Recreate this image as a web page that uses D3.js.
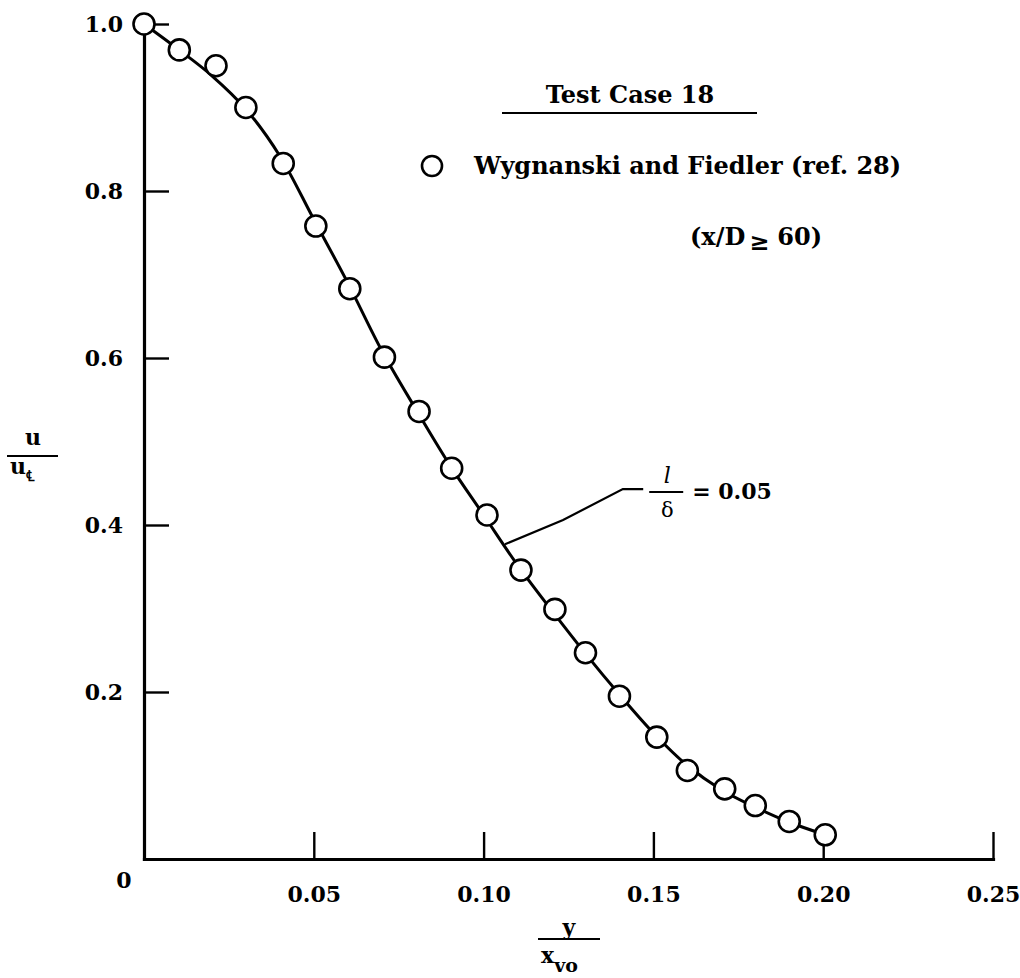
<!DOCTYPE html>
<html>
<head>
<meta charset="utf-8">
<script src="https://cdn.jsdelivr.net/npm/d3@7"></script>
<style>
  body { margin: 0; background: #fff; }
  svg text { font-family: "DejaVu Serif", serif; fill: #000; }
</style>
</head>
<body>
<svg id="chart" width="1020" height="978"></svg>
<script>
// measured points, Wygnanski and Fiedler (ref. 28)
var pointX = [0.0, 0.0104, 0.0212, 0.030, 0.041, 0.0506, 0.0606, 0.0708, 0.081, 0.0906,
              0.101, 0.111, 0.121, 0.130, 0.140, 0.151, 0.160, 0.171, 0.180, 0.190, 0.2006];
var pointY = [1.0, 0.969, 0.950, 0.900, 0.833, 0.758, 0.683, 0.601, 0.536, 0.468,
              0.412, 0.346, 0.299, 0.247, 0.195, 0.146, 0.106, 0.084, 0.064, 0.045, 0.029];

// computed curve, l/delta = 0.05
var curveX = [0.0, 0.01, 0.02, 0.03, 0.04, 0.05, 0.06, 0.07, 0.08, 0.09, 0.10,
              0.11, 0.12, 0.13, 0.14, 0.15, 0.16, 0.17, 0.18, 0.19, 0.2006];
var curveY = [1.0, 0.970, 0.938, 0.898, 0.842, 0.766, 0.690, 0.609, 0.539, 0.472, 0.412,
              0.352, 0.298, 0.246, 0.197, 0.151, 0.112, 0.083, 0.062, 0.044, 0.029];

var xTicks = [0.05, 0.10, 0.15, 0.20, 0.25];
var xTickLabels = ["0.05", "0.10", "0.15", "0.20", "0.25"];
var yTicks = [0.2, 0.4, 0.6, 0.8, 1.0];
var yTickLabels = ["0.2", "0.4", "0.6", "0.8", "1.0"];

// leader line of the curve label, in data units
var leaderX = [0.1063, 0.1234, 0.141, 0.147];
var leaderY = [0.377, 0.406, 0.443, 0.443];

(function () {
    var svg = d3.select('#chart');

    var x = d3.scaleLinear().domain([0, 0.25]).range([144, 993]);
    var y = d3.scaleLinear().domain([0, 1]).range([859, 24]);

    var xAxis = d3.axisBottom(x)
        .tickValues(xTicks)
        .tickFormat(function (d, i) { return xTickLabels[i]; })
        .tickSizeInner(-27)
        .tickSizeOuter(0)
        .tickPadding(27);

    var yAxis = d3.axisLeft(y)
        .tickValues(yTicks)
        .tickFormat(function (d, i) { return yTickLabels[i]; })
        .tickSizeInner(-25)
        .tickSizeOuter(0)
        .tickPadding(21);

    var styleAxis = function (g) {
        g.select('.domain')
            .attr('stroke', '#000')
            .attr('stroke-width', 3.2)
            .attr('stroke-linecap', 'square');
        g.selectAll('.tick line')
            .attr('stroke', '#000')
            .attr('stroke-width', 2.4);
        g.selectAll('.tick text')
            .attr('font-family', 'DejaVu Serif')
            .attr('font-weight', 'bold')
            .attr('font-size', 22)
            .attr('fill', '#000');
    };

    svg.append('g')
        .attr('transform', 'translate(0,' + y(0) + ')')
        .call(xAxis)
        .call(styleAxis);

    svg.append('g')
        .attr('transform', 'translate(' + x(0) + ',0)')
        .call(yAxis)
        .call(styleAxis);

    // origin label
    svg.append('text')
        .attr('x', x(0) - 20)
        .attr('y', y(0) + 29)
        .attr('text-anchor', 'middle')
        .attr('font-weight', 'bold')
        .attr('font-size', 22)
        .text('0');

    // curve
    var line = d3.line()
        .x(function (d) { return x(d[0]); })
        .y(function (d) { return y(d[1]); })
        .curve(d3.curveCatmullRom.alpha(0.5));

    svg.append('path')
        .datum(d3.zip(curveX, curveY))
        .attr('d', line)
        .attr('fill', 'none')
        .attr('stroke', '#000')
        .attr('stroke-width', 3);

    // data points
    svg.append('g')
        .selectAll('circle')
        .data(d3.zip(pointX, pointY))
        .enter()
        .append('circle')
        .attr('cx', function (d) { return x(d[0]); })
        .attr('cy', function (d) { return y(d[1]); })
        .attr('r', 10.5)
        .attr('fill', '#fff')
        .attr('stroke', '#000')
        .attr('stroke-width', 2.6);

    // curve label with leader
    var leader = d3.line()
        .x(function (d) { return x(d[0]); })
        .y(function (d) { return y(d[1]); });

    svg.append('path')
        .datum(d3.zip(leaderX, leaderY))
        .attr('d', leader)
        .attr('fill', 'none')
        .attr('stroke', '#000')
        .attr('stroke-width', 2.2);

    var lx = x(leaderX[3]) + 6;
    var ly = y(leaderY[3]) + 3;
    svg.append('line')
        .attr('x1', lx).attr('x2', lx + 34)
        .attr('y1', ly).attr('y2', ly)
        .attr('stroke', '#000').attr('stroke-width', 2);
    svg.append('text')
        .attr('x', lx + 18).attr('y', ly - 9)
        .attr('text-anchor', 'middle')
        .attr('font-style', 'italic')
        .attr('font-size', 22)
        .text('l');
    svg.append('text')
        .attr('x', lx + 18).attr('y', ly + 25)
        .attr('text-anchor', 'middle')
        .attr('font-size', 21)
        .text('δ');
    svg.append('text')
        .attr('x', lx + 43).attr('y', ly + 7)
        .attr('font-weight', 'bold')
        .attr('font-size', 22)
        .text('= 0.05');

    // legend block
    svg.append('text')
        .attr('x', 630).attr('y', 103)
        .attr('text-anchor', 'middle')
        .attr('font-weight', 'bold')
        .attr('font-size', 24)
        .text('Test Case 18');
    svg.append('line')
        .attr('x1', 502).attr('x2', 757)
        .attr('y1', 113).attr('y2', 113)
        .attr('stroke', '#000').attr('stroke-width', 2);

    svg.append('circle')
        .attr('cx', 432).attr('cy', 166)
        .attr('r', 10)
        .attr('fill', '#fff')
        .attr('stroke', '#000')
        .attr('stroke-width', 2.6);
    svg.append('text')
        .attr('x', 474).attr('y', 174)
        .attr('font-weight', 'bold')
        .attr('font-size', 24)
        .text('Wygnanski and Fiedler (ref. 28)');

    var cond = svg.append('text')
        .attr('x', 690).attr('y', 245)
        .attr('font-weight', 'bold')
        .attr('font-size', 24);
    cond.append('tspan').text('(x/D');
    cond.append('tspan').attr('dx', 4).attr('dy', 5).text('≥');
    cond.append('tspan').attr('dx', 8).attr('dy', -5).text('60)');

    // axis titles
    svg.append('text')
        .attr('x', 33).attr('y', 445)
        .attr('text-anchor', 'middle')
        .attr('font-weight', 'bold')
        .attr('font-size', 22)
        .text('u');
    svg.append('line')
        .attr('x1', 7).attr('x2', 58)
        .attr('y1', 456).attr('y2', 456)
        .attr('stroke', '#000').attr('stroke-width', 2);
    var uc = svg.append('text')
        .attr('x', 10).attr('y', 474)
        .attr('font-weight', 'bold')
        .attr('font-size', 22);
    uc.append('tspan').text('u');
    uc.append('tspan').attr('dy', 7).attr('font-size', 15).text('℄');

    svg.append('text')
        .attr('x', 569).attr('y', 935)
        .attr('text-anchor', 'middle')
        .attr('font-weight', 'bold')
        .attr('font-size', 22)
        .text('y');
    svg.append('line')
        .attr('x1', 538).attr('x2', 600)
        .attr('y1', 939).attr('y2', 939)
        .attr('stroke', '#000').attr('stroke-width', 2);
    var xv = svg.append('text')
        .attr('x', 541).attr('y', 963)
        .attr('font-weight', 'bold')
        .attr('font-size', 22);
    xv.append('tspan').text('x');
    xv.append('tspan').attr('dy', 9).attr('font-size', 19).text('vo');
})();
</script>
</body>
</html>
